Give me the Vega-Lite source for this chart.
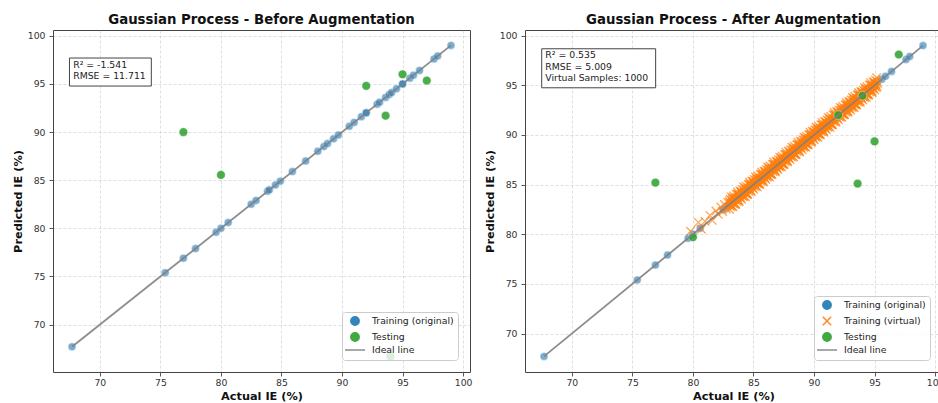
{
"$schema": "https://vega.github.io/schema/vega-lite/v6.json",
"padding": {"left": 11, "top": 12, "right": 0, "bottom": 0},
"config": {
  "font": "DejaVu Sans",
  "view": {"stroke": "#444", "strokeWidth": 1},
  "axis": {"domain": false, "grid": true, "gridColor": "#b0b0b0", "gridOpacity": 0.5, "gridDash": [3, 2], "gridWidth": 0.8, "tickColor": "#444", "tickSize": 4, "tickWidth": 0.9, "labelFont": "DejaVu Sans", "labelFontSize": 9.3, "labelColor": "#333", "titleFont": "DejaVu Sans", "titleFontSize": 11.3, "titleFontWeight": "bold", "titleColor": "#111"},
  "title": {"font": "DejaVu Sans", "fontSize": 13.3, "fontWeight": "bold", "color": "#111", "offset": 4, "anchor": "middle"},
  "concat": {"spacing": 10}
},
"datasets": {
  "train": [
    {"a":67.7,"p":67.7},{"a":75.4,"p":75.4},{"a":76.9,"p":76.9},{"a":77.9,"p":77.9},{"a":79.6,"p":79.6},{"a":80.0,"p":80.0},{"a":80.6,"p":80.6},{"a":82.5,"p":82.5},{"a":82.9,"p":82.9},{"a":83.85,"p":83.85},{"a":84.0,"p":84.0},{"a":84.5,"p":84.5},{"a":84.9,"p":84.9},{"a":85.9,"p":85.9},{"a":87.0,"p":87.0},{"a":88.0,"p":88.0},{"a":88.5,"p":88.5},{"a":88.8,"p":88.8},{"a":89.3,"p":89.3},{"a":89.7,"p":89.7},{"a":90.6,"p":90.6},{"a":91.0,"p":91.0},{"a":91.6,"p":91.6},{"a":92.0,"p":92.0},{"a":92.0,"p":92.0},{"a":92.9,"p":92.9},{"a":93.1,"p":93.1},{"a":93.6,"p":93.6},{"a":93.9,"p":93.9},{"a":94.1,"p":94.1},{"a":94.5,"p":94.5},{"a":95.0,"p":95.0},{"a":95.0,"p":95.0},{"a":95.6,"p":95.6},{"a":95.9,"p":95.9},{"a":96.4,"p":96.4},{"a":97.6,"p":97.6},{"a":97.9,"p":97.9},{"a":99.0,"p":99.0}
  ],
  "testB": [
    {"a":76.9,"p":90.0},{"a":80.0,"p":85.55},{"a":92.0,"p":94.8},{"a":93.6,"p":91.7},{"a":95.0,"p":96.0},{"a":97.0,"p":95.35},{"a":94.0,"p":66.7}
  ],
  "testA": [
    {"a":76.9,"p":85.2},{"a":80.0,"p":79.7},{"a":92.0,"p":92.0},{"a":93.6,"p":85.1},{"a":95.0,"p":89.35},{"a":97.0,"p":98.1},{"a":94.0,"p":93.95}
  ],
  "ideal": [{"a":67.7,"p":67.7},{"a":99.0,"p":99.0}],
  "noteB": [{"t":"R² = -1.541\nRMSE = 11.711"}],
  "noteA": [{"t":"R² = 0.535\nRMSE = 5.009\nVirtual Samples: 1000"}],
  "virt": [
    {"a":79.8,"p":80.3},{"a":80.45,"p":81.2},{"a":80.7,"p":80.5},{"a":81.0,"p":81.3},{"a":81.4,"p":81.9},{"a":81.6,"p":81.4},{"a":81.9,"p":82.35},{"a":82.1,"p":82.0},{"a":82.3,"p":82.75},{"a":82.45,"p":82.3},{"a":82.6,"p":83.0},{"a":82.75,"p":82.55},{"a":82.9,"p":83.2},
    {"a":83.00,"p":83.32},{"a":83.05,"p":82.87},{"a":83.10,"p":83.15},{"a":83.15,"p":82.77},{"a":83.20,"p":83.42},{"a":83.25,"p":83.20},{"a":83.30,"p":83.70},{"a":83.35,"p":83.07},{"a":83.40,"p":83.52},{"a":83.45,"p":83.03},{"a":83.50,"p":83.08},{"a":83.55,"p":83.67},{"a":83.60,"p":83.32},{"a":83.65,"p":84.05},{"a":83.70,"p":83.65},{"a":83.75,"p":83.97},{"a":83.80,"p":83.42},{"a":83.85,"p":83.90},{"a":83.90,"p":83.72},{"a":83.95,"p":84.27},
    {"a":84.00,"p":84.32},{"a":84.05,"p":83.87},{"a":84.10,"p":84.15},{"a":84.15,"p":83.77},{"a":84.20,"p":84.42},{"a":84.25,"p":84.20},{"a":84.30,"p":84.70},{"a":84.35,"p":84.07},{"a":84.40,"p":84.52},{"a":84.45,"p":84.03},{"a":84.50,"p":84.08},{"a":84.55,"p":84.67},{"a":84.60,"p":84.32},{"a":84.65,"p":85.05},{"a":84.70,"p":84.65},{"a":84.75,"p":84.97},{"a":84.80,"p":84.42},{"a":84.85,"p":84.90},{"a":84.90,"p":84.72},{"a":84.95,"p":85.27},
    {"a":85.00,"p":85.32},{"a":85.05,"p":84.87},{"a":85.10,"p":85.15},{"a":85.15,"p":84.77},{"a":85.20,"p":85.42},{"a":85.25,"p":85.20},{"a":85.30,"p":85.70},{"a":85.35,"p":85.07},{"a":85.40,"p":85.52},{"a":85.45,"p":85.03},{"a":85.50,"p":85.08},{"a":85.55,"p":85.67},{"a":85.60,"p":85.32},{"a":85.65,"p":86.05},{"a":85.70,"p":85.65},{"a":85.75,"p":85.97},{"a":85.80,"p":85.42},{"a":85.85,"p":85.90},{"a":85.90,"p":85.72},{"a":85.95,"p":86.27},
    {"a":86.00,"p":86.32},{"a":86.05,"p":85.87},{"a":86.10,"p":86.15},{"a":86.15,"p":85.77},{"a":86.20,"p":86.42},{"a":86.25,"p":86.20},{"a":86.30,"p":86.70},{"a":86.35,"p":86.07},{"a":86.40,"p":86.52},{"a":86.45,"p":86.03},{"a":86.50,"p":86.08},{"a":86.55,"p":86.67},{"a":86.60,"p":86.32},{"a":86.65,"p":87.05},{"a":86.70,"p":86.65},{"a":86.75,"p":86.97},{"a":86.80,"p":86.42},{"a":86.85,"p":86.90},{"a":86.90,"p":86.72},{"a":86.95,"p":87.27},
    {"a":87.00,"p":87.32},{"a":87.05,"p":86.87},{"a":87.10,"p":87.15},{"a":87.15,"p":86.77},{"a":87.20,"p":87.42},{"a":87.25,"p":87.20},{"a":87.30,"p":87.70},{"a":87.35,"p":87.07},{"a":87.40,"p":87.52},{"a":87.45,"p":87.03},{"a":87.50,"p":87.08},{"a":87.55,"p":87.67},{"a":87.60,"p":87.32},{"a":87.65,"p":88.05},{"a":87.70,"p":87.65},{"a":87.75,"p":87.97},{"a":87.80,"p":87.42},{"a":87.85,"p":87.90},{"a":87.90,"p":87.72},{"a":87.95,"p":88.27},
    {"a":88.00,"p":88.32},{"a":88.05,"p":87.87},{"a":88.10,"p":88.15},{"a":88.15,"p":87.77},{"a":88.20,"p":88.42},{"a":88.25,"p":88.20},{"a":88.30,"p":88.70},{"a":88.35,"p":88.07},{"a":88.40,"p":88.52},{"a":88.45,"p":88.03},{"a":88.50,"p":88.08},{"a":88.55,"p":88.67},{"a":88.60,"p":88.32},{"a":88.65,"p":89.05},{"a":88.70,"p":88.65},{"a":88.75,"p":88.97},{"a":88.80,"p":88.42},{"a":88.85,"p":88.90},{"a":88.90,"p":88.72},{"a":88.95,"p":89.27},
    {"a":89.00,"p":89.32},{"a":89.05,"p":88.87},{"a":89.10,"p":89.15},{"a":89.15,"p":88.77},{"a":89.20,"p":89.42},{"a":89.25,"p":89.20},{"a":89.30,"p":89.70},{"a":89.35,"p":89.07},{"a":89.40,"p":89.52},{"a":89.45,"p":89.03},{"a":89.50,"p":89.08},{"a":89.55,"p":89.67},{"a":89.60,"p":89.32},{"a":89.65,"p":90.05},{"a":89.70,"p":89.65},{"a":89.75,"p":89.97},{"a":89.80,"p":89.42},{"a":89.85,"p":89.90},{"a":89.90,"p":89.72},{"a":89.95,"p":90.27},
    {"a":90.00,"p":90.32},{"a":90.05,"p":89.87},{"a":90.10,"p":90.15},{"a":90.15,"p":89.77},{"a":90.20,"p":90.42},{"a":90.25,"p":90.20},{"a":90.30,"p":90.70},{"a":90.35,"p":90.07},{"a":90.40,"p":90.52},{"a":90.45,"p":90.03},{"a":90.50,"p":90.08},{"a":90.55,"p":90.67},{"a":90.60,"p":90.32},{"a":90.65,"p":91.05},{"a":90.70,"p":90.65},{"a":90.75,"p":90.97},{"a":90.80,"p":90.42},{"a":90.85,"p":90.90},{"a":90.90,"p":90.72},{"a":90.95,"p":91.27},
    {"a":91.00,"p":91.32},{"a":91.05,"p":90.87},{"a":91.10,"p":91.15},{"a":91.15,"p":90.77},{"a":91.20,"p":91.42},{"a":91.25,"p":91.20},{"a":91.30,"p":91.70},{"a":91.35,"p":91.07},{"a":91.40,"p":91.52},{"a":91.45,"p":91.03},{"a":91.50,"p":91.08},{"a":91.55,"p":91.67},{"a":91.60,"p":91.32},{"a":91.65,"p":92.05},{"a":91.70,"p":91.65},{"a":91.75,"p":91.97},{"a":91.80,"p":91.42},{"a":91.85,"p":91.90},{"a":91.90,"p":91.72},{"a":91.95,"p":92.27},
    {"a":92.00,"p":92.32},{"a":92.05,"p":91.87},{"a":92.10,"p":92.15},{"a":92.15,"p":91.77},{"a":92.20,"p":92.42},{"a":92.25,"p":92.20},{"a":92.30,"p":92.70},{"a":92.35,"p":92.07},{"a":92.40,"p":92.52},{"a":92.45,"p":92.03},{"a":92.50,"p":92.08},{"a":92.55,"p":92.67},{"a":92.60,"p":92.32},{"a":92.65,"p":93.05},{"a":92.70,"p":92.65},{"a":92.75,"p":92.97},{"a":92.80,"p":92.42},{"a":92.85,"p":92.90},{"a":92.90,"p":92.72},{"a":92.95,"p":93.27},
    {"a":93.00,"p":93.32},{"a":93.05,"p":92.87},{"a":93.10,"p":93.15},{"a":93.15,"p":92.77},{"a":93.20,"p":93.42},{"a":93.25,"p":93.20},{"a":93.30,"p":93.70},{"a":93.35,"p":93.07},{"a":93.40,"p":93.52},{"a":93.45,"p":93.03},{"a":93.50,"p":93.08},{"a":93.55,"p":93.67},{"a":93.60,"p":93.32},{"a":93.65,"p":94.05},{"a":93.70,"p":93.65},{"a":93.75,"p":93.97},{"a":93.80,"p":93.42},{"a":93.85,"p":93.90},{"a":93.90,"p":93.72},{"a":93.95,"p":94.27},
    {"a":94.00,"p":94.32},{"a":94.05,"p":93.87},{"a":94.10,"p":94.15},{"a":94.15,"p":93.77},{"a":94.20,"p":94.42},{"a":94.25,"p":94.20},{"a":94.30,"p":94.70},{"a":94.35,"p":94.07},{"a":94.40,"p":94.52},{"a":94.45,"p":94.03},{"a":94.50,"p":94.08},{"a":94.55,"p":94.67},{"a":94.60,"p":94.32},{"a":94.65,"p":95.05},{"a":94.70,"p":94.65},{"a":94.75,"p":94.97},{"a":94.80,"p":94.42},{"a":94.85,"p":94.90},{"a":94.90,"p":94.72},{"a":94.95,"p":95.27},
    {"a":95.00,"p":95.32},{"a":95.05,"p":94.87},{"a":95.10,"p":95.15},{"a":95.15,"p":94.77},{"a":95.20,"p":95.42},{"a":95.25,"p":95.20},
    {"a":83.02,"p":82.52},{"a":83.07,"p":83.52},{"a":83.12,"p":83.02},{"a":83.17,"p":83.77},{"a":83.22,"p":82.87},{"a":83.27,"p":83.52},{"a":83.32,"p":82.77},{"a":83.37,"p":83.87},{"a":83.42,"p":83.17},{"a":83.47,"p":83.57},{"a":83.52,"p":83.02},{"a":83.57,"p":84.02},{"a":83.62,"p":83.52},{"a":83.67,"p":84.27},{"a":83.72,"p":83.37},{"a":83.77,"p":84.02},{"a":83.82,"p":83.27},{"a":83.87,"p":84.37},{"a":83.92,"p":83.67},{"a":83.97,"p":84.07},
    {"a":84.02,"p":83.52},{"a":84.07,"p":84.52},{"a":84.12,"p":84.02},{"a":84.17,"p":84.77},{"a":84.22,"p":83.87},{"a":84.27,"p":84.52},{"a":84.32,"p":83.77},{"a":84.37,"p":84.87},{"a":84.42,"p":84.17},{"a":84.47,"p":84.57},{"a":84.52,"p":84.02},{"a":84.57,"p":85.02},{"a":84.62,"p":84.52},{"a":84.67,"p":85.27},{"a":84.72,"p":84.37},{"a":84.77,"p":85.02},{"a":84.82,"p":84.27},{"a":84.87,"p":85.37},{"a":84.92,"p":84.67},{"a":84.97,"p":85.07},
    {"a":85.02,"p":84.52},{"a":85.07,"p":85.52},{"a":85.12,"p":85.02},{"a":85.17,"p":85.77},{"a":85.22,"p":84.87},{"a":85.27,"p":85.52},{"a":85.32,"p":84.77},{"a":85.37,"p":85.87},{"a":85.42,"p":85.17},{"a":85.47,"p":85.57},{"a":85.52,"p":85.02},{"a":85.57,"p":86.02},{"a":85.62,"p":85.52},{"a":85.67,"p":86.27},{"a":85.72,"p":85.37},{"a":85.77,"p":86.02},{"a":85.82,"p":85.27},{"a":85.87,"p":86.37},{"a":85.92,"p":85.67},{"a":85.97,"p":86.07},
    {"a":86.02,"p":85.52},{"a":86.07,"p":86.52},{"a":86.12,"p":86.02},{"a":86.17,"p":86.77},{"a":86.22,"p":85.87},{"a":86.27,"p":86.52},{"a":86.32,"p":85.77},{"a":86.37,"p":86.87},{"a":86.42,"p":86.17},{"a":86.47,"p":86.57},{"a":86.52,"p":86.02},{"a":86.57,"p":87.02},{"a":86.62,"p":86.52},{"a":86.67,"p":87.27},{"a":86.72,"p":86.37},{"a":86.77,"p":87.02},{"a":86.82,"p":86.27},{"a":86.87,"p":87.37},{"a":86.92,"p":86.67},{"a":86.97,"p":87.07},
    {"a":87.02,"p":86.52},{"a":87.07,"p":87.52},{"a":87.12,"p":87.02},{"a":87.17,"p":87.77},{"a":87.22,"p":86.87},{"a":87.27,"p":87.52},{"a":87.32,"p":86.77},{"a":87.37,"p":87.87},{"a":87.42,"p":87.17},{"a":87.47,"p":87.57},{"a":87.52,"p":87.02},{"a":87.57,"p":88.02},{"a":87.62,"p":87.52},{"a":87.67,"p":88.27},{"a":87.72,"p":87.37},{"a":87.77,"p":88.02},{"a":87.82,"p":87.27},{"a":87.87,"p":88.37},{"a":87.92,"p":87.67},{"a":87.97,"p":88.07},
    {"a":88.02,"p":87.52},{"a":88.07,"p":88.52},{"a":88.12,"p":88.02},{"a":88.17,"p":88.77},{"a":88.22,"p":87.87},{"a":88.27,"p":88.52},{"a":88.32,"p":87.77},{"a":88.37,"p":88.87},{"a":88.42,"p":88.17},{"a":88.47,"p":88.57},{"a":88.52,"p":88.02},{"a":88.57,"p":89.02},{"a":88.62,"p":88.52},{"a":88.67,"p":89.27},{"a":88.72,"p":88.37},{"a":88.77,"p":89.02},{"a":88.82,"p":88.27},{"a":88.87,"p":89.37},{"a":88.92,"p":88.67},{"a":88.97,"p":89.07},
    {"a":89.02,"p":88.52},{"a":89.07,"p":89.52},{"a":89.12,"p":89.02},{"a":89.17,"p":89.77},{"a":89.22,"p":88.87},{"a":89.27,"p":89.52},{"a":89.32,"p":88.77},{"a":89.37,"p":89.87},{"a":89.42,"p":89.17},{"a":89.47,"p":89.57},{"a":89.52,"p":89.02},{"a":89.57,"p":90.02},{"a":89.62,"p":89.52},{"a":89.67,"p":90.27},{"a":89.72,"p":89.37},{"a":89.77,"p":90.02},{"a":89.82,"p":89.27},{"a":89.87,"p":90.37},{"a":89.92,"p":89.67},{"a":89.97,"p":90.07},
    {"a":90.02,"p":89.52},{"a":90.07,"p":90.52},{"a":90.12,"p":90.02},{"a":90.17,"p":90.77},{"a":90.22,"p":89.87},{"a":90.27,"p":90.52},{"a":90.32,"p":89.77},{"a":90.37,"p":90.87},{"a":90.42,"p":90.17},{"a":90.47,"p":90.57},{"a":90.52,"p":90.02},{"a":90.57,"p":91.02},{"a":90.62,"p":90.52},{"a":90.67,"p":91.27},{"a":90.72,"p":90.37},{"a":90.77,"p":91.02},{"a":90.82,"p":90.27},{"a":90.87,"p":91.37},{"a":90.92,"p":90.67},{"a":90.97,"p":91.07},
    {"a":91.02,"p":90.52},{"a":91.07,"p":91.52},{"a":91.12,"p":91.02},{"a":91.17,"p":91.77},{"a":91.22,"p":90.87},{"a":91.27,"p":91.52},{"a":91.32,"p":90.77},{"a":91.37,"p":91.87},{"a":91.42,"p":91.17},{"a":91.47,"p":91.57},{"a":91.52,"p":91.02},{"a":91.57,"p":92.02},{"a":91.62,"p":91.52},{"a":91.67,"p":92.27},{"a":91.72,"p":91.37},{"a":91.77,"p":92.02},{"a":91.82,"p":91.27},{"a":91.87,"p":92.37},{"a":91.92,"p":91.67},{"a":91.97,"p":92.07},
    {"a":92.02,"p":91.52},{"a":92.07,"p":92.52},{"a":92.12,"p":92.02},{"a":92.17,"p":92.77},{"a":92.22,"p":91.87},{"a":92.27,"p":92.52},{"a":92.32,"p":91.77},{"a":92.37,"p":92.87},{"a":92.42,"p":92.17},{"a":92.47,"p":92.57},{"a":92.52,"p":92.02},{"a":92.57,"p":93.02},{"a":92.62,"p":92.52},{"a":92.67,"p":93.27},{"a":92.72,"p":92.37},{"a":92.77,"p":93.02},{"a":92.82,"p":92.27},{"a":92.87,"p":93.37},{"a":92.92,"p":92.67},{"a":92.97,"p":93.07},
    {"a":93.02,"p":92.52},{"a":93.07,"p":93.52},{"a":93.12,"p":93.02},{"a":93.17,"p":93.77},{"a":93.22,"p":92.87},{"a":93.27,"p":93.52},{"a":93.32,"p":92.77},{"a":93.37,"p":93.87},{"a":93.42,"p":93.17},{"a":93.47,"p":93.57},{"a":93.52,"p":93.02},{"a":93.57,"p":94.02},{"a":93.62,"p":93.52},{"a":93.67,"p":94.27},{"a":93.72,"p":93.37},{"a":93.77,"p":94.02},{"a":93.82,"p":93.27},{"a":93.87,"p":94.37},{"a":93.92,"p":93.67},{"a":93.97,"p":94.07},
    {"a":94.02,"p":93.52},{"a":94.07,"p":94.52},{"a":94.12,"p":94.02},{"a":94.17,"p":94.77},{"a":94.22,"p":93.87},{"a":94.27,"p":94.52},{"a":94.32,"p":93.77},{"a":94.37,"p":94.87},{"a":94.42,"p":94.17},{"a":94.47,"p":94.57},{"a":94.52,"p":94.02},{"a":94.57,"p":95.02},{"a":94.62,"p":94.52},{"a":94.67,"p":95.27},{"a":94.72,"p":94.37},{"a":94.77,"p":95.02},{"a":94.82,"p":94.27},{"a":94.87,"p":95.37},{"a":94.92,"p":94.67},{"a":94.97,"p":95.07},
    {"a":95.02,"p":94.52},{"a":95.07,"p":95.52},{"a":95.12,"p":95.02},{"a":95.17,"p":95.77},{"a":95.22,"p":94.87}
  ]
},
"resolve": {"scale": {"x": "independent", "y": "independent", "color": "independent", "shape": "independent"}, "legend": {"color": "independent", "shape": "independent"}},
"hconcat": [
  {
    "title": "Gaussian Process - Before Augmentation",
    "width": 417,
    "height": 342,
    "layer": [
      {
        "data": {"name": "train"},
        "mark": {"type": "point", "filled": true, "size": 64, "opacity": 0.6, "stroke": "white", "strokeWidth": 0.5},
        "encoding": {
          "x": {"field": "a", "type": "quantitative", "scale": {"domain": [66.13, 100.57], "nice": false, "zero": false}, "axis": {"title": "Actual IE (%)", "values": [70, 75, 80, 85, 90, 95, 100], "labelPadding": 2.5, "titlePadding": 3}},
          "y": {"field": "p", "type": "quantitative", "scale": {"domain": [65.08, 100.6], "nice": false, "zero": false}, "axis": {"title": "Predicted IE (%)", "values": [70, 75, 80, 85, 90, 95, 100], "labelPadding": 4, "titlePadding": 4}},
          "color": {"datum": "Training (original)", "type": "nominal", "scale": {"domain": ["Training (original)", "Testing", "Ideal line"], "range": ["#1f77b4", "#2ca02c", "#808080"]},
            "legend": {"title": null, "orient": "bottom-right", "offset": 12, "padding": 4, "symbolOffset": 4, "labelOffset": 12, "rowPadding": 0, "fillColor": "rgba(255,255,255,0.8)", "strokeColor": "#cccccc", "cornerRadius": 3, "labelFont": "DejaVu Sans", "labelFontSize": 9.3, "labelColor": "#222", "symbolSize": 70, "symbolOpacity": 0.9,
              "encode": {"symbols": {
                "fill": {"condition": [{"test": "datum.value === 'Training (original)'", "value": "#1f77b4"}, {"test": "datum.value === 'Testing'", "value": "#2ca02c"}], "value": "transparent"},
                "stroke": {"condition": [{"test": "datum.value === 'Training (virtual)'", "value": "#ff7f0e"}, {"test": "datum.value === 'Ideal line'", "value": "#808080"}], "value": "transparent"},
                "strokeWidth": {"condition": {"test": "datum.value === 'Ideal line'", "value": 2}, "value": 1.4},
                "opacity": {"value": 0.9}
              }}}},
          "shape": {"datum": "Training (original)", "type": "nominal", "scale": {"domain": ["Training (original)", "Testing", "Ideal line"], "range": ["circle", "circle", "M-2.4,0L2.4,0"]}, "legend": {"title": null}}
        }
      },
      {
        "data": {"name": "testB"},
        "mark": {"type": "point", "filled": true, "size": 76, "opacity": 0.85, "stroke": "white", "strokeWidth": 0.5},
        "encoding": {
          "x": {"field": "a", "type": "quantitative", "scale": {"domain": [66.13, 100.57], "nice": false, "zero": false}, "axis": {"title": "Actual IE (%)", "values": [70, 75, 80, 85, 90, 95, 100], "labelPadding": 2.5, "titlePadding": 3}},
          "y": {"field": "p", "type": "quantitative", "scale": {"domain": [65.08, 100.6], "nice": false, "zero": false}, "axis": {"title": "Predicted IE (%)", "values": [70, 75, 80, 85, 90, 95, 100], "labelPadding": 4, "titlePadding": 4}},
          "color": {"datum": "Testing", "type": "nominal"},
          "shape": {"datum": "Testing", "type": "nominal"}
        }
      },
      {
        "data": {"name": "ideal"},
        "mark": {"type": "line", "strokeWidth": 1.8, "opacity": 0.9},
        "encoding": {
          "x": {"field": "a", "type": "quantitative", "scale": {"domain": [66.13, 100.57], "nice": false, "zero": false}, "axis": {"title": "Actual IE (%)", "values": [70, 75, 80, 85, 90, 95, 100], "labelPadding": 2.5, "titlePadding": 3}},
          "y": {"field": "p", "type": "quantitative", "scale": {"domain": [65.08, 100.6], "nice": false, "zero": false}, "axis": {"title": "Predicted IE (%)", "values": [70, 75, 80, 85, 90, 95, 100], "labelPadding": 4, "titlePadding": 4}},
          "color": {"datum": "Ideal line", "type": "nominal"}
        }
      },
      {
        "data": {"name": "noteB"},
        "mark": {"type": "rect", "fill": "white", "stroke": "#444", "strokeWidth": 1},
        "encoding": {
          "x": {"datum": 67.49, "type": "quantitative", "scale": {"domain": [66.13, 100.57], "nice": false, "zero": false}, "axis": {"title": "Actual IE (%)", "values": [70, 75, 80, 85, 90, 95, 100], "labelPadding": 2.5, "titlePadding": 3}},
          "x2": {"datum": 74.25},
          "y": {"datum": 97.69, "type": "quantitative", "scale": {"domain": [65.08, 100.6], "nice": false, "zero": false}, "axis": {"title": "Predicted IE (%)", "values": [70, 75, 80, 85, 90, 95, 100], "labelPadding": 4, "titlePadding": 4}},
          "y2": {"datum": 94.78}
        }
      },
      {
        "data": {"name": "noteB"},
        "mark": {"type": "text", "lineBreak": "\n", "align": "left", "baseline": "top", "fontSize": 9.3, "lineHeight": 11.5, "color": "#222"},
        "encoding": {
          "x": {"datum": 67.8, "type": "quantitative", "scale": {"domain": [66.13, 100.57], "nice": false, "zero": false}, "axis": {"title": "Actual IE (%)", "values": [70, 75, 80, 85, 90, 95, 100], "labelPadding": 2.5, "titlePadding": 3}},
          "y": {"datum": 97.4, "type": "quantitative", "scale": {"domain": [65.08, 100.6], "nice": false, "zero": false}, "axis": {"title": "Predicted IE (%)", "values": [70, 75, 80, 85, 90, 95, 100], "labelPadding": 4, "titlePadding": 4}},
          "text": {"field": "t", "type": "nominal"}
        }
      }
    ]
  },
  {
    "title": "Gaussian Process - After Augmentation",
    "width": 417,
    "height": 342,
    "layer": [
      {
        "data": {"name": "train"},
        "mark": {"type": "point", "filled": true, "size": 64, "opacity": 0.6, "stroke": "white", "strokeWidth": 0.5},
        "encoding": {
          "x": {"field": "a", "type": "quantitative", "scale": {"domain": [66.13, 100.57], "nice": false, "zero": false}, "axis": {"title": "Actual IE (%)", "values": [70, 75, 80, 85, 90, 95, 100], "labelPadding": 2.5, "titlePadding": 3}},
          "y": {"field": "p", "type": "quantitative", "scale": {"domain": [66.13, 100.57], "nice": false, "zero": false}, "axis": {"title": "Predicted IE (%)", "values": [70, 75, 80, 85, 90, 95, 100], "labelPadding": 4, "titlePadding": 4}},
          "color": {"datum": "Training (original)", "type": "nominal", "scale": {"domain": ["Training (original)", "Training (virtual)", "Testing", "Ideal line"], "range": ["#1f77b4", "#ff7f0e", "#2ca02c", "#808080"]},
            "legend": {"title": null, "orient": "bottom-right", "offset": 12, "padding": 4, "symbolOffset": 4, "labelOffset": 12, "rowPadding": 0, "fillColor": "rgba(255,255,255,0.8)", "strokeColor": "#cccccc", "cornerRadius": 3, "labelFont": "DejaVu Sans", "labelFontSize": 9.3, "labelColor": "#222", "symbolSize": 70, "symbolOpacity": 0.9,
              "encode": {"symbols": {
                "fill": {"condition": [{"test": "datum.value === 'Training (original)'", "value": "#1f77b4"}, {"test": "datum.value === 'Testing'", "value": "#2ca02c"}], "value": "transparent"},
                "stroke": {"condition": [{"test": "datum.value === 'Training (virtual)'", "value": "#ff7f0e"}, {"test": "datum.value === 'Ideal line'", "value": "#808080"}], "value": "transparent"},
                "strokeWidth": {"condition": {"test": "datum.value === 'Ideal line'", "value": 2}, "value": 1.4},
                "opacity": {"value": 0.9}
              }}}},
          "shape": {"datum": "Training (original)", "type": "nominal", "scale": {"domain": ["Training (original)", "Training (virtual)", "Testing", "Ideal line"], "range": ["circle", "M-1,-1L1,1M-1,1L1,-1", "circle", "M-2.4,0L2.4,0"]}, "legend": {"title": null}}
        }
      },
      {
        "data": {"name": "virt"},
        "mark": {"type": "point", "filled": false, "size": 72, "opacity": 0.7, "strokeWidth": 1.3},
        "encoding": {
          "x": {"field": "a", "type": "quantitative", "scale": {"domain": [66.13, 100.57], "nice": false, "zero": false}, "axis": {"title": "Actual IE (%)", "values": [70, 75, 80, 85, 90, 95, 100], "labelPadding": 2.5, "titlePadding": 3}},
          "y": {"field": "p", "type": "quantitative", "scale": {"domain": [66.13, 100.57], "nice": false, "zero": false}, "axis": {"title": "Predicted IE (%)", "values": [70, 75, 80, 85, 90, 95, 100], "labelPadding": 4, "titlePadding": 4}},
          "color": {"datum": "Training (virtual)", "type": "nominal"},
          "shape": {"datum": "Training (virtual)", "type": "nominal"}
        }
      },
      {
        "data": {"name": "testA"},
        "mark": {"type": "point", "filled": true, "size": 76, "opacity": 0.85, "stroke": "white", "strokeWidth": 0.5},
        "encoding": {
          "x": {"field": "a", "type": "quantitative", "scale": {"domain": [66.13, 100.57], "nice": false, "zero": false}, "axis": {"title": "Actual IE (%)", "values": [70, 75, 80, 85, 90, 95, 100], "labelPadding": 2.5, "titlePadding": 3}},
          "y": {"field": "p", "type": "quantitative", "scale": {"domain": [66.13, 100.57], "nice": false, "zero": false}, "axis": {"title": "Predicted IE (%)", "values": [70, 75, 80, 85, 90, 95, 100], "labelPadding": 4, "titlePadding": 4}},
          "color": {"datum": "Testing", "type": "nominal"},
          "shape": {"datum": "Testing", "type": "nominal"}
        }
      },
      {
        "data": {"name": "ideal"},
        "mark": {"type": "line", "strokeWidth": 1.8, "opacity": 0.9},
        "encoding": {
          "x": {"field": "a", "type": "quantitative", "scale": {"domain": [66.13, 100.57], "nice": false, "zero": false}, "axis": {"title": "Actual IE (%)", "values": [70, 75, 80, 85, 90, 95, 100], "labelPadding": 2.5, "titlePadding": 3}},
          "y": {"field": "p", "type": "quantitative", "scale": {"domain": [66.13, 100.57], "nice": false, "zero": false}, "axis": {"title": "Predicted IE (%)", "values": [70, 75, 80, 85, 90, 95, 100], "labelPadding": 4, "titlePadding": 4}},
          "color": {"datum": "Ideal line", "type": "nominal"}
        }
      },
      {
        "data": {"name": "noteA"},
        "mark": {"type": "rect", "fill": "white", "stroke": "#444", "strokeWidth": 1},
        "encoding": {
          "x": {"datum": 67.51, "type": "quantitative", "scale": {"domain": [66.13, 100.57], "nice": false, "zero": false}, "axis": {"title": "Actual IE (%)", "values": [70, 75, 80, 85, 90, 95, 100], "labelPadding": 2.5, "titlePadding": 3}},
          "x2": {"datum": 76.92},
          "y": {"datum": 98.68, "type": "quantitative", "scale": {"domain": [66.13, 100.57], "nice": false, "zero": false}, "axis": {"title": "Predicted IE (%)", "values": [70, 75, 80, 85, 90, 95, 100], "labelPadding": 4, "titlePadding": 4}},
          "y2": {"datum": 94.75}
        }
      },
      {
        "data": {"name": "noteA"},
        "mark": {"type": "text", "lineBreak": "\n", "align": "left", "baseline": "top", "fontSize": 9.3, "lineHeight": 11.2, "color": "#222"},
        "encoding": {
          "x": {"datum": 67.81, "type": "quantitative", "scale": {"domain": [66.13, 100.57], "nice": false, "zero": false}, "axis": {"title": "Actual IE (%)", "values": [70, 75, 80, 85, 90, 95, 100], "labelPadding": 2.5, "titlePadding": 3}},
          "y": {"datum": 98.42, "type": "quantitative", "scale": {"domain": [66.13, 100.57], "nice": false, "zero": false}, "axis": {"title": "Predicted IE (%)", "values": [70, 75, 80, 85, 90, 95, 100], "labelPadding": 4, "titlePadding": 4}},
          "text": {"field": "t", "type": "nominal"}
        }
      }
    ]
  }
]
}
